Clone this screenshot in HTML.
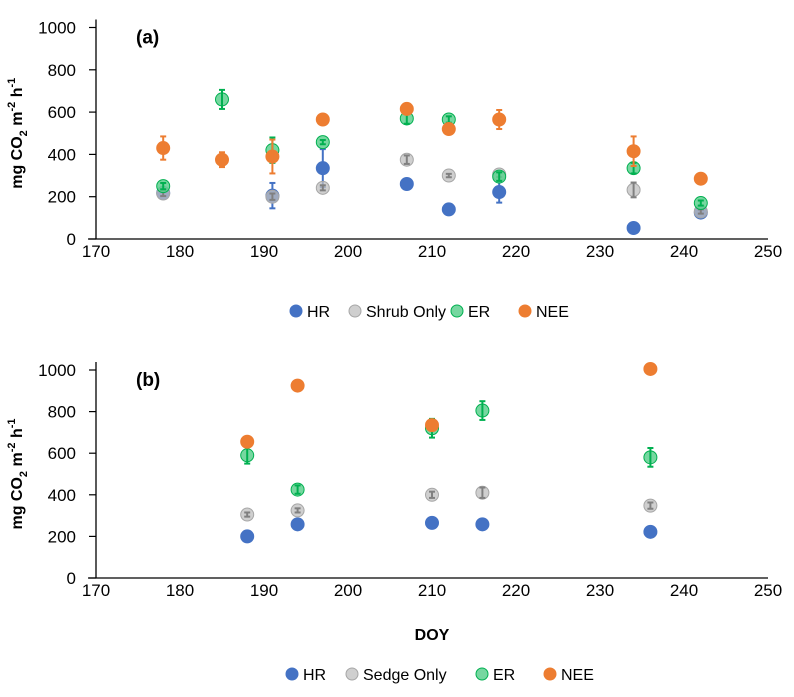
<!DOCTYPE html>
<html><head><meta charset="utf-8">
<style>
body{margin:0;background:#fff;font-family:"Liberation Sans",sans-serif;}
svg text{font-family:"Liberation Sans",sans-serif;}
</style></head>
<body>
<svg id="chart" width="794" height="692" viewBox="0 0 794 692" xmlns="http://www.w3.org/2000/svg"></svg>
<script>
const xTicks=[170,180,190,200,210,220,230,240,250];
const yTicks=[0,200,400,600,800,1000];
// Panel a
const aHRx=[178,191,197,207,212,218,234,242];
const aHRy=[218,205,335,260,140,222,52,125];
const aHRe=[20,60,90,25,0,50,0,20];
const aSHx=[178,191,197,207,212,218,234,242];
const aSHy=[215,200,242,375,300,305,232,130];
const aSHe=[12,15,12,20,8,12,35,10];
const aERx=[178,185,191,197,207,212,218,234,242];
const aERy=[250,660,420,458,570,565,295,335,170];
const aERe=[15,45,60,10,25,15,20,25,12];
const aNEx=[178,185,191,197,207,212,218,234,242];
const aNEy=[430,375,390,565,615,520,565,415,285];
const aNEe=[55,35,80,0,0,0,45,70,0];
// Panel b
const bHRx=[188,194,210,216,236];
const bHRy=[200,258,265,258,222];
const bHRe=[15,10,10,25,15];
const bSEx=[188,194,210,216,236];
const bSEy=[305,325,400,410,348];
const bSEe=[10,10,15,25,15];
const bERx=[188,194,210,216,236];
const bERy=[590,425,720,805,580];
const bERe=[40,20,45,45,45];
const bNEx=[188,194,210,236];
const bNEy=[655,925,735,1005];
const bNEe=[0,0,0,0];

const svg=document.getElementById('chart');
const NS='http://www.w3.org/2000/svg';
function mk(tag,attrs,parent){const e=document.createElementNS(NS,tag);for(const k in attrs)e.setAttribute(k,attrs[k]);(parent||svg).appendChild(e);return e;}
const X0=96,X1=768;
function xs(v){return X0+(v-170)/(250-170)*(X1-X0);}

const styles={
 HR:{fill:'#4472C4',stroke:'#4472C4',op:1,err:'#4472C4'},
 SH:{fill:'#BFBFBF',stroke:'#A6A6A6',op:0.75,err:'#808080'},
 ER:{fill:'#5ED08F',stroke:'#00B050',op:0.85,err:'#00B050'},
 NE:{fill:'#ED7D31',stroke:'#ED7D31',op:1,err:'#ED7D31'}
};

function panel(id,y0,y1,label,series,legend,showDOY){
  const ys=v=>y0+(v/1000)*(y1-y0);
  const g=mk('g',{});
  
  
  const ya=mk('line',{x1:X0,y1:y1-8,x2:X0,y2:y0,stroke:'#000','stroke-width':1.3},g);
  
  
  const xa=mk('line',{x1:X0-8,y1:y0,x2:X1,y2:y0,stroke:'#000','stroke-width':1.3},g);
  
  
  yTicks.forEach(t=>{
    const y=ys(t);
    mk('line',{x1:X0-7,y1:y,x2:X0,y2:y,stroke:'#000','stroke-width':1.2},g);
    const tx=mk('text',{x:X0-20,y:y+6,'text-anchor':'end','font-size':17,fill:'#000'},g);
    tx.textContent=t;
    
    
  });
  xTicks.forEach(t=>{
    const tx=mk('text',{x:xs(t),y:y0+18,'text-anchor':'middle','font-size':17,fill:'#000'},g);
    tx.textContent=t;
    
    
  });
  const lb=mk('text',{x:136,y:y1+16,'font-size':19,'font-weight':'bold'},g);
  lb.textContent=label;
  
  
  const cy=(y0+y1)/2;
  const yt=mk('text',{x:0,y:0,'font-size':16,'font-weight':'bold','text-anchor':'middle',transform:`translate(22,${cy}) rotate(-90)`},g);
  yt.innerHTML='mg CO<tspan font-size="11" dy="5">2</tspan><tspan dy="-5"> m</tspan><tspan font-size="11" dy="-7">-2</tspan><tspan dy="7"> h</tspan><tspan font-size="11" dy="-7">-1</tspan>';
  
  
  series.forEach(s=>{
    const st=styles[s.k];
    s.x.forEach((xv,i)=>{
      const cx=xs(xv),cyv=ys(s.y[i]);
      const c=mk('circle',{cx:cx,cy:cyv,r:6.5,fill:st.fill,stroke:st.stroke,'stroke-width':1,'fill-opacity':st.op},g);
      
      
      const e=s.e[i];
      if(e>0){
        const ea=ys(s.y[i]+e),eb=ys(s.y[i]-e);
        mk('line',{x1:cx,y1:ea,x2:cx,y2:eb,stroke:st.err,'stroke-width':2},g);
        mk('line',{x1:cx-3,y1:ea,x2:cx+3,y2:ea,stroke:st.err,'stroke-width':2},g);
        mk('line',{x1:cx-3,y1:eb,x2:cx+3,y2:eb,stroke:st.err,'stroke-width':2},g);
      }
    });
  });
  legend.items.forEach(it=>{
    const st=styles[it.k];
    const c=mk('circle',{cx:it.cx,cy:legend.y,r:6,fill:st.fill,stroke:st.stroke,'fill-opacity':st.op},g);
    
    
    const t=mk('text',{x:it.cx+11,y:legend.y+6,'font-size':16},g);
    t.textContent=it.t;
    
    
  });
  if(showDOY){
    const d=mk('text',{x:432,y:640,'font-size':16,'font-weight':'bold','text-anchor':'middle'},g);
    d.textContent='DOY';
    
    
  }
}
panel('a',239,27.5,'(a)',[
 {k:'HR',x:aHRx,y:aHRy,e:aHRe},{k:'SH',x:aSHx,y:aSHy,e:aSHe},{k:'ER',x:aERx,y:aERy,e:aERe},{k:'NE',x:aNEx,y:aNEy,e:aNEe}
],{y:311,items:[{k:'HR',cx:296,t:'HR'},{k:'SH',cx:355,t:'Shrub Only'},{k:'ER',cx:457,t:'ER'},{k:'NE',cx:525,t:'NEE'}]},false);
panel('b',578,370,'(b)',[
 {k:'HR',x:bHRx,y:bHRy,e:bHRe},{k:'SH',x:bSEx,y:bSEy,e:bSEe},{k:'ER',x:bERx,y:bERy,e:bERe},{k:'NE',x:bNEx,y:bNEy,e:bNEe}
],{y:674,items:[{k:'HR',cx:292,t:'HR'},{k:'SH',cx:352,t:'Sedge Only'},{k:'ER',cx:482,t:'ER'},{k:'NE',cx:550,t:'NEE'}]},true);
</script>
</body></html>
